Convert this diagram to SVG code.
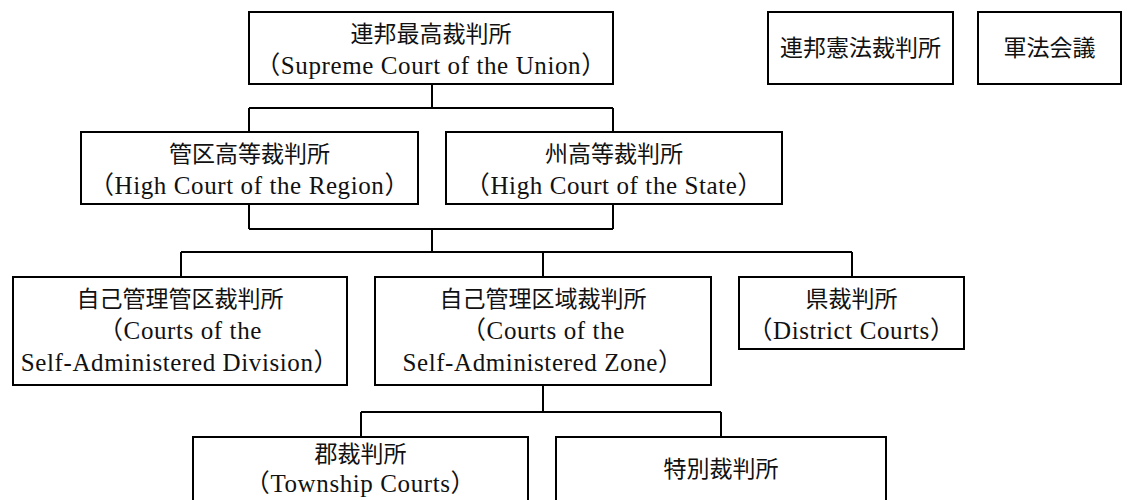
<svg xmlns="http://www.w3.org/2000/svg" width="1138" height="500" viewBox="0 0 1138 500">
<style>
.box{fill:#fff;stroke:#000;stroke-width:2}
.conn{fill:none;stroke:#000;stroke-width:2}
text{font-family:"Liberation Serif","Noto Sans CJK JP",serif;fill:#111;text-anchor:middle}
.jp{font-size:23px}
.en{font-size:25px;letter-spacing:0.6px}
</style>
<rect width="1138" height="500" fill="#fff"/>
<g id="connectors">
<path class="conn" d="M432,84 V108 M249,108 H613 M249,108 V132 M613,108 V132"/>
<path class="conn" d="M249,204 V229 M613,204 V229 M249,229 H613 M432,229 V252 M181,252 H852 M181,252 V277 M543,252 V277 M852,252 V277"/>
<path class="conn" d="M543,385 V412 M361,412 H721 M361,412 V437 M721,412 V437"/>
</g>
<g id="supreme">
<rect class="box" x="249" y="12" width="364" height="72"/>
<text class="jp" x="431" y="42">連邦最高裁判所</text>
<text class="en" x="431" y="74">（Supreme Court of the Union）</text>
</g>
<g id="constitutional">
<rect class="box" x="768" y="12" width="185" height="72"/>
<text class="jp" x="860.5" y="56">連邦憲法裁判所</text>
</g>
<g id="courtmartial">
<rect class="box" x="978" y="12" width="143" height="72"/>
<text class="jp" x="1049.5" y="56">軍法会議</text>
</g>
<g id="high-region">
<rect class="box" x="81" y="132" width="337" height="72"/>
<text class="jp" x="249.5" y="162">管区高等裁判所</text>
<text class="en" x="249.5" y="194">（High Court of the Region）</text>
</g>
<g id="high-state">
<rect class="box" x="446" y="132" width="336" height="72"/>
<text class="jp" x="614" y="162">州高等裁判所</text>
<text class="en" x="614" y="194">（High Court of the State）</text>
</g>
<g id="sad-courts">
<rect class="box" x="13" y="277" width="334" height="108"/>
<text class="jp" x="180" y="307">自己管理管区裁判所</text>
<text class="en" x="180" y="339">（Courts of the</text>
<text class="en" x="180" y="371">Self-Administered Division）</text>
</g>
<g id="saz-courts">
<rect class="box" x="375" y="277" width="336" height="108"/>
<text class="jp" x="543" y="307">自己管理区域裁判所</text>
<text class="en" x="543" y="339">（Courts of the</text>
<text class="en" x="543" y="371">Self-Administered Zone）</text>
</g>
<g id="district">
<rect class="box" x="739" y="277" width="225" height="72"/>
<text class="jp" x="851.5" y="307">県裁判所</text>
<text class="en" x="851.5" y="339">（District Courts）</text>
</g>
<g id="township">
<rect class="box" x="193" y="437" width="335" height="80"/>
<text class="jp" x="360.5" y="462">郡裁判所</text>
<text class="en" x="360.5" y="492">（Township Courts）</text>
</g>
<g id="special">
<rect class="box" x="556" y="437" width="330" height="80"/>
<text class="jp" x="721" y="477">特別裁判所</text>
</g>
</svg>
